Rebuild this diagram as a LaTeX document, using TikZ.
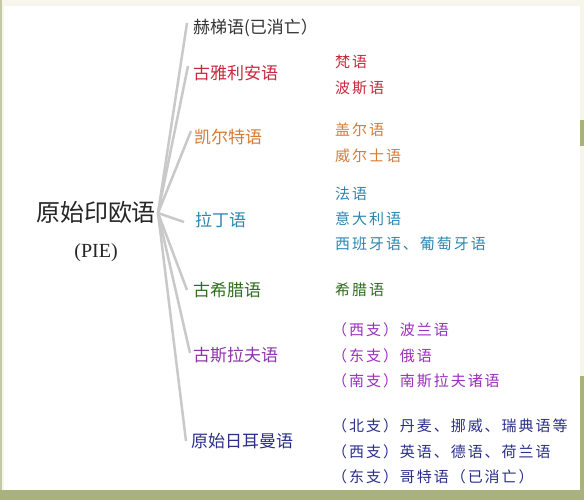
\documentclass[tikz,border=0pt]{standalone}
\usepackage{fontspec}
\newfontfamily\cjk{Noto Sans CJK SC}
\newfontfamily\cjkr[LetterSpace=13]{Noto Sans CJK SC}
\newfontfamily\tms{Liberation Serif}
\definecolor{hitc}{HTML}{333333}
\definecolor{aryc}{HTML}{C8283C}
\definecolor{celc}{HTML}{D77B35}
\definecolor{latc}{HTML}{2C86B2}
\definecolor{grkc}{HTML}{2E6E1E}
\definecolor{slvc}{HTML}{8E35A8}
\definecolor{slvr}{HTML}{9B2FC0}
\definecolor{gerc}{HTML}{2B2F8A}
\definecolor{linec}{HTML}{C9C9C9}
\definecolor{creamc}{HTML}{F7F6EC}
\definecolor{olivec}{HTML}{A9B27D}
\begin{document}
\begin{tikzpicture}[x=1pt,y=-1pt,
  branch/.style={anchor=west,inner sep=0pt,font=\cjk\fontsize{17}{17}\selectfont},
  leaf/.style={anchor=west,inner sep=0pt,font=\cjkr\fontsize{15}{15}\selectfont},
  conn/.style={draw=linec,line width=2.5pt}]
\useasboundingbox (0,0) rectangle (584,500);
% frame
\fill[creamc] (0,0) rectangle (584,500);
\fill[white] (4,6) rectangle (580,490);
\fill[olivec] (0,490) rectangle (584,500);
\fill[olivec!70] (0,0) rectangle (2,490);
\fill[olivec] (580,120) rectangle (584,146);
\fill[olivec] (580,376) rectangle (584,490);
% root
\node[inner sep=0pt,font=\cjk\fontsize{24}{24}\selectfont,text=black!85] (root) at (96,212) {原始印欧语};
\node[inner sep=0pt,font=\tms\fontsize{20}{20}\selectfont,text=black!85] (pie) at (96,253) {(PIE)};
\coordinate (hub) at (158,213);
% branches
\node[branch,text=hitc] (hit) at (193,28) {赫梯语(已消亡）};
\node[branch,text=aryc] (ary) at (193,73) {古雅利安语};
\node[branch,text=celc] (cel) at (194,137) {凯尔特语};
\node[branch,text=latc] (lat) at (195,220) {拉丁语};
\node[branch,text=grkc] (grk) at (193,290) {古希腊语};
\node[branch,text=slvc] (slv) at (193,355) {古斯拉夫语};
\node[branch,text=gerc] (ger) at (191,441) {原始日耳曼语};
% connectors
\draw[conn] (hub) -- ([xshift=-6pt,yshift=5pt]hit.west);
\draw[conn] (hub) -- ([xshift=-5pt,yshift=7pt]ary.west);
\draw[conn] (hub) -- ([xshift=-3pt,yshift=6pt]cel.west);
\draw[conn] (hub) -- ([xshift=-11pt,yshift=-2pt]lat.west);
\draw[conn] (hub) -- ([xshift=-6pt]grk.west);
\draw[conn] (hub) -- ([xshift=-3pt,yshift=2pt]slv.west);
\draw[conn] (hub) -- ([xshift=-5pt]ger.west);
% leaves
\node[leaf,text=aryc] (l1) at (335,62) {梵语};
\node[leaf,text=aryc] (l2) at (335,88) {波斯语};
\node[leaf,text=celc] (l3) at (335,130) {盖尔语};
\node[leaf,text=celc] (l4) at (335,156) {威尔士语};
\node[leaf,text=latc] (l5) at (335,194) {法语};
\node[leaf,text=latc] (l6) at (335,219) {意大利语};
\node[leaf,text=latc] (l7) at (335,244) {西班牙语、葡萄牙语};
\node[leaf,text=grkc] (l8) at (335,290) {希腊语};
\node[leaf,text=slvr] (l9) at (332,330) {（西支）波兰语};
\node[leaf,text=slvr] (l10) at (332,356) {（东支）俄语};
\node[leaf,text=slvr] (l11) at (332,381) {（南支）南斯拉夫诸语};
\node[leaf,text=gerc] (l12) at (332,426) {（北支）丹麦、挪威、瑞典语等};
\node[leaf,text=gerc] (l13) at (332,452) {（西支）英语、德语、荷兰语};
\node[leaf,text=gerc] (l14) at (332,477) {（东支）哥特语（已消亡）};
\end{tikzpicture}
\end{document}
